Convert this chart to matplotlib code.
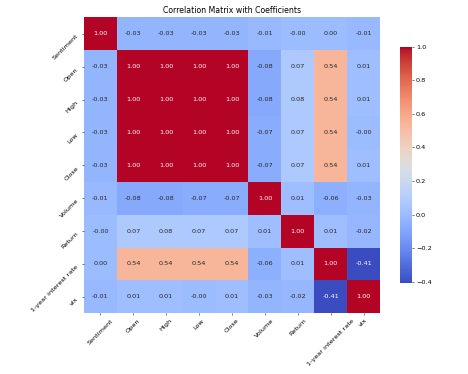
import numpy as np
import matplotlib
matplotlib.use("Agg")
import matplotlib.pyplot as plt
import seaborn as sns

labels = ["Sentiment", "Open", "High", "Low", "Close", "Volume", "Return",
          "1-year interest rate", "vix"]

corr = np.array([
    [1.00, -0.03, -0.03, -0.03, -0.03, -0.01, -0.00, 0.00, -0.01],
    [-0.03, 1.00, 1.00, 1.00, 1.00, -0.08, 0.07, 0.54, 0.01],
    [-0.03, 1.00, 1.00, 1.00, 1.00, -0.08, 0.08, 0.54, 0.01],
    [-0.03, 1.00, 1.00, 1.00, 1.00, -0.07, 0.07, 0.54, -0.00],
    [-0.03, 1.00, 1.00, 1.00, 1.00, -0.07, 0.07, 0.54, 0.01],
    [-0.01, -0.08, -0.08, -0.07, -0.07, 1.00, 0.01, -0.06, -0.03],
    [-0.00, 0.07, 0.08, 0.07, 0.07, 0.01, 1.00, 0.01, -0.02],
    [0.00, 0.54, 0.54, 0.54, 0.54, -0.06, 0.01, 1.00, -0.41],
    [-0.01, 0.01, 0.01, -0.00, 0.01, -0.03, -0.02, -0.41, 1.00],
])

dpi = 46.8
fig = plt.figure(figsize=(468 / dpi, 374 / dpi), dpi=dpi)
ax = fig.add_axes([0.1795, 0.1623, 0.6325, 0.7914])
cax = fig.add_axes([0.8547, 0.2425, 0.025, 0.6326])

sns.heatmap(corr, annot=True, fmt=".2f", cmap="coolwarm", ax=ax, cbar_ax=cax,
            xticklabels=labels, yticklabels=labels, vmin=-0.41, vmax=1.0)
for t in ax.texts:
    v = float(t.get_text())
    t.set_color("white" if (v >= 0.9 or v <= -0.3) else "#262626")
cax.tick_params(length=3)
cax.set_yticks([-0.4, -0.2, 0.0, 0.2, 0.4, 0.6, 0.8, 1.0])
ax.set_xticklabels(labels, rotation=45, ha="center")
ax.set_yticklabels(labels, rotation=45, ha="right", va="top")
ax.set_title("Correlation Matrix with Coefficients", fontsize=12)

fig.savefig("out.png", dpi=dpi)
